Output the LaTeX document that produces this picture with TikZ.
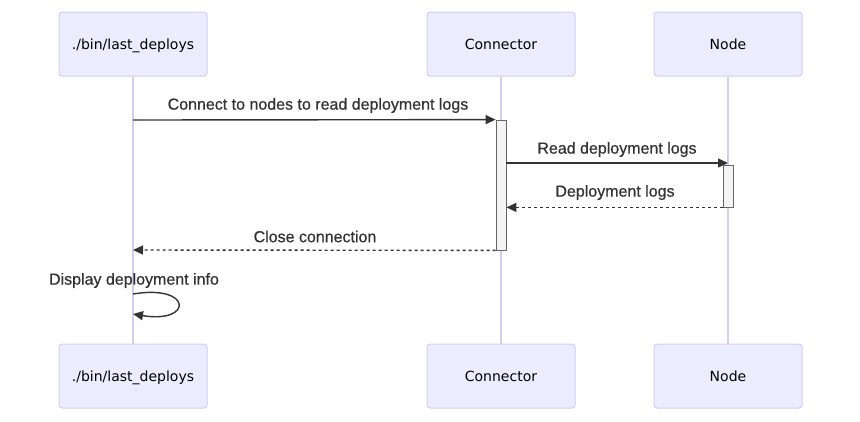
\documentclass[tikz,border=0pt]{standalone}
\usepackage{fontspec}
\setmainfont{Liberation Sans}
\newfontfamily\actorfont{DejaVu Sans}
\newfontfamily\msgfont[FakeBold=0.6]{Liberation Sans}
\usetikzlibrary{arrows.meta}
\definecolor{actfill}{HTML}{ECECFF}
\definecolor{actline}{HTML}{D6CCF2}
\definecolor{msgcol}{HTML}{333333}
\definecolor{actvfill}{HTML}{F4F4F4}
\definecolor{actvline}{HTML}{666666}
\tikzset{
  actor/.style={draw=actline, fill=actfill, line width=1pt, rounded corners=3pt,
    minimum width=148pt, minimum height=64pt, inner sep=0pt, text height=10.2pt, text depth=0pt,
    font=\actorfont\fontsize{14pt}{16pt}\selectfont, text=black},
  lifeline/.style={draw=actline, line width=1.8pt},
  activ/.style={draw=actvline, fill=actvfill, line width=0.8pt, minimum width=10pt, inner sep=0pt},
  msg/.style={draw=msgcol, line width=1.4pt, -{Triangle[length=10pt,width=9pt]}},
  reply/.style={msg, dash pattern=on 3pt off 3pt},
  lbl/.style={font=\msgfont\fontsize{16pt}{18pt}\selectfont, text=msgcol, inner sep=0pt}
}
\begin{document}
\begin{tikzpicture}[x=1pt,y=-1pt]
\useasboundingbox (0,0) rectangle (860,421);
\node[actor] (L1) at (133,44) {./bin/last\_deploys};
\node[actor] (C1) at (501,44) {Connector};
\node[actor] (N1) at (728,44) {Node};
\node[actor] (L2) at (133,376) {./bin/last\_deploys};
\node[actor] (C2) at (501,376) {Connector};
\node[actor] (N2) at (728,376) {Node};
\draw[lifeline] (L1.south) -- (L2.north);
\draw[lifeline] (C1.south) -- (C2.north);
\draw[lifeline] (N1.south) -- (N2.north);
% activations
\node[activ, minimum height=130pt] (A1) at (501,185) {};
\node[activ, minimum height=42pt] (A2) at (728,186) {};
% message end points
\coordinate (m1s) at (133,120);
\coordinate (m2e) at (728,163);
\coordinate (m4e) at (133,250);
\coordinate (s1) at (133,294);
\coordinate (s2) at (133,314);
\draw[msg] (m1s) -- (A1.north west);
\node[lbl] (t1) at (318,105.5) {Connect to nodes to read deployment logs};
\draw[msg] (A1.east |- m2e) -- (m2e);
\node[lbl] (t2) at (617,149.5) {Read deployment logs};
\draw[reply] (A2.south west) -- (A1.east |- A2.south);
\node[lbl] (t3) at (615,192.5) {Deployment logs};
\draw[reply] (A1.south west) -- (m4e);
\node[lbl] (t4) at (315,236.5) {Close connection};
\draw[msg] (s1) .. controls (193,284) and (193,324) .. (s2);
\node[lbl] (t5) at (134,280.5) {Display deployment info};
\end{tikzpicture}
\end{document}
